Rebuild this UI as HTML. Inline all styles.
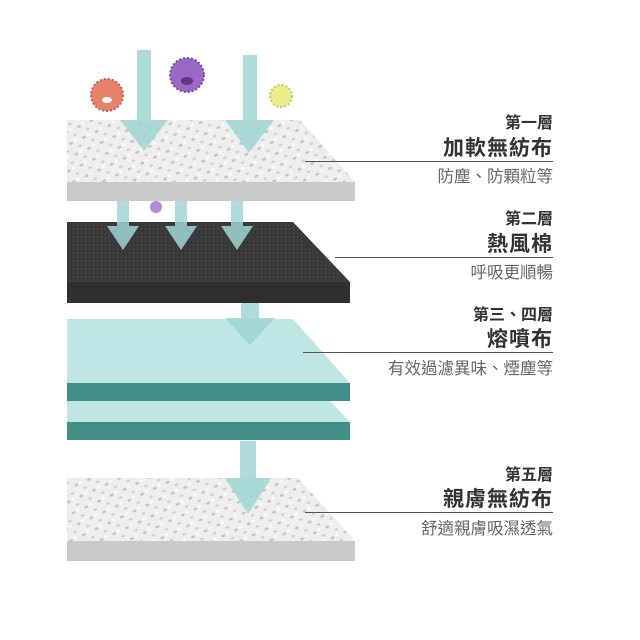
<!DOCTYPE html>
<html><head><meta charset="utf-8"><style>
body{margin:0;background:#fff;width:640px;height:640px;overflow:hidden}
svg{display:block}
.t{font-family:"Liberation Sans","Noto Sans CJK TC",sans-serif;text-anchor:end}
</style></head><body>
<svg width="640" height="640" viewBox="0 0 640 640" xmlns="http://www.w3.org/2000/svg">
<defs>
<pattern id="dots" width="14" height="12" patternUnits="userSpaceOnUse" patternTransform="rotate(-25)">
<rect width="14" height="12" fill="#ededed"/>
<ellipse cx="4" cy="4" rx="2" ry="1.2" fill="#c2c2c2"/>
<ellipse cx="11" cy="10" rx="1.8" ry="1.1" fill="#cdcdcd"/>
<circle cx="9" cy="3" r="1.5" fill="#fafafa"/>
</pattern>
<pattern id="noise" width="4" height="4" patternUnits="userSpaceOnUse">
<rect width="4" height="4" fill="#3a3a3a"/><rect x="1" y="1" width="1" height="1" fill="#4a4a4a"/><rect x="3" y="2" width="1" height="1" fill="#2e2e2e"/>
</pattern>
</defs>

<polygon points="67,120 300,120 355,182 67,182" fill="url(#dots)"/>
<rect x="67" y="182" width="288" height="19" fill="#c9c9c9"/>
<polygon points="67,222 293,222 350,282 67,282" fill="url(#noise)"/>
<rect x="67" y="282" width="283" height="21" fill="#2f2f2f"/>
<polygon points="67,319 293,319 350,383 67,383" fill="#bfe5e4"/>
<rect x="67" y="383" width="283" height="18" fill="#418f88"/>
<polygon points="67,401 330,401 350,422 67,422" fill="#bfe5e4"/>
<rect x="67" y="422" width="283" height="18" fill="#418f88"/>
<polygon points="67,478 298,478 355,541 67,541" fill="url(#dots)"/>
<rect x="67" y="541" width="288" height="20" fill="#c9c9c9"/>

<g fill="#9fd6d5" opacity="0.85">
<rect x="137" y="50" width="14" height="71"/><polygon points="120,120 168,120 144,151"/>
<rect x="243" y="55" width="14" height="66"/><polygon points="225,120 274,120 249,153"/>
<rect x="117" y="201" width="12" height="26"/><polygon points="107,226 139,226 123,250"/>
<rect x="175" y="201" width="12" height="26"/><polygon points="165,226 197,226 181,250"/>
<rect x="231" y="201" width="12" height="26"/><polygon points="221,226 253,226 237,250"/>
<rect x="241" y="303" width="18" height="16"/><polygon points="225,318 275,318 250,345"/>
<rect x="240" y="441" width="16" height="38"/><polygon points="225,478 271,478 248,514"/>
</g>

<g>
<circle cx="107" cy="95" r="16" fill="#e8826a" stroke="#c0604c" stroke-width="2" stroke-dasharray="2 2"/>
<ellipse cx="107" cy="100" rx="5" ry="3" fill="#fff"/>
<circle cx="187" cy="75" r="17" fill="#9b68c8" stroke="#7648a0" stroke-width="2" stroke-dasharray="2 2"/>
<ellipse cx="187" cy="81" rx="6" ry="4" fill="#5c3a80"/>
<circle cx="281" cy="96" r="11" fill="#ecec8a" stroke="#c8c860" stroke-width="2" stroke-dasharray="2 2"/>
<circle cx="156" cy="207" r="6" fill="#b78ad8"/>
</g>

<g stroke="#555" stroke-width="1">
<line x1="305" y1="161.5" x2="553" y2="161.5"/>
<line x1="335" y1="257.5" x2="553" y2="257.5"/>
<line x1="303" y1="352.5" x2="553" y2="352.5"/>
<line x1="305" y1="512.5" x2="553" y2="512.5"/>
</g>

<g class="t">
<text x="553" y="128" font-size="16" font-weight="bold" fill="#333">第一層</text>
<text x="553" y="155" font-size="21" font-weight="bold" fill="#333" letter-spacing="1">加軟無紡布</text>
<text x="553" y="182" font-size="16.5" fill="#666">防塵、防顆粒等</text>

<text x="553" y="224" font-size="16" font-weight="bold" fill="#333">第二層</text>
<text x="553" y="251" font-size="21" font-weight="bold" fill="#333" letter-spacing="1">熱風棉</text>
<text x="553" y="278" font-size="16.5" fill="#666">呼吸更順暢</text>

<text x="553" y="320" font-size="16" font-weight="bold" fill="#333">第三、四層</text>
<text x="553" y="346" font-size="21" font-weight="bold" fill="#333" letter-spacing="1">熔噴布</text>
<text x="553" y="374" font-size="16.5" fill="#666">有效過濾異味、煙塵等</text>

<text x="553" y="480" font-size="16" font-weight="bold" fill="#333">第五層</text>
<text x="553" y="506" font-size="21" font-weight="bold" fill="#333" letter-spacing="1">親膚無紡布</text>
<text x="553" y="534" font-size="16.5" fill="#666">舒適親膚吸濕透氣</text>
</g>
</svg>
</body></html>
